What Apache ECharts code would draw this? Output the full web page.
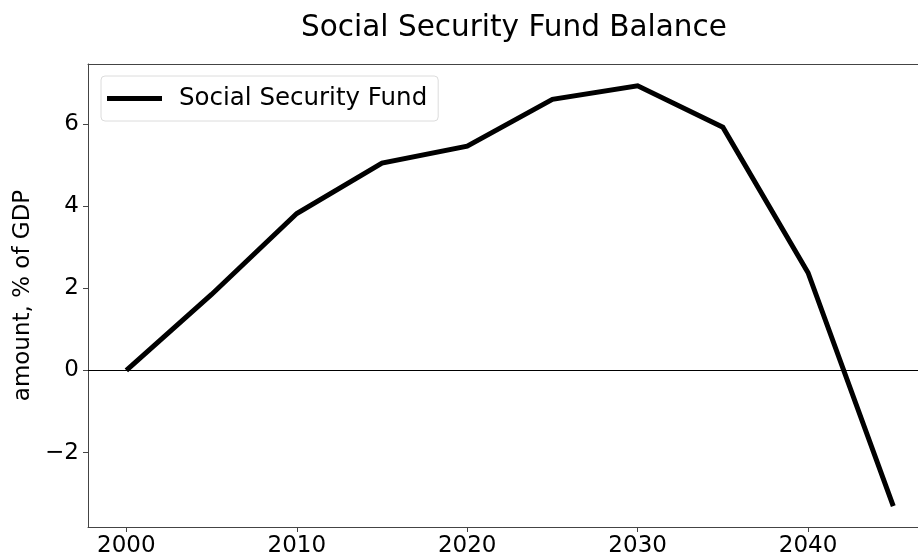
<!DOCTYPE html>
<html>
<head>
<meta charset="utf-8">
<script src="https://cdn.jsdelivr.net/npm/echarts@6/dist/echarts.min.js"></script>
<style>
  html, body { margin: 0; padding: 0; background: #fff; }
  #chart { width: 918px; height: 554px; }
</style>
</head>
<body>
<div id="chart"></div>
<script>
// data
var years = [2000, 2005, 2010, 2015, 2020, 2025, 2030, 2035, 2040, 2045];
var balance = [0, 1.85, 3.82, 5.05, 5.46, 6.60, 6.93, 5.92, 2.38, -3.3];
var xTicks = [2000, 2010, 2020, 2030, 2040];
var yTicks = [-2, 0, 2, 4, 6];

var chart = echarts.init(document.getElementById("chart"));
var font = "DejaVu Sans";

var points = [];
for (var i = 0; i < years.length; i++) {
  points.push([years[i], balance[i]]);
}

var option = {
  animation: false,
  backgroundColor: "#fff",
  title: {
    text: "Social Security Fund Balance",
    left: 509,
    textAlign: "center",
    top: 8,
    textStyle: { fontFamily: font, fontSize: 29.5, fontWeight: "normal", color: "#000" }
  },
  legend: {
    data: ["Social Security Fund"],
    left: 101,
    top: 76,
    orient: "vertical",
    icon: "rect",
    itemWidth: 55,
    itemHeight: 5,
    padding: [10, 11, 10, 6],
    borderColor: "#dcdcdc",
    borderWidth: 1,
    borderRadius: 4,
    backgroundColor: "rgba(255,255,255,0.8)",
    textStyle: { fontFamily: font, fontSize: 24.5, color: "#000", padding: [0, 0, 0, 12] }
  },
  // plot area is cut by the right edge of the picture, so no right spine
  grid: {
    left: 88,
    top: 64,
    right: 0,
    bottom: 27,
    show: false,
    outerBoundsMode: "none"
  },
  xAxis: [
    {
      type: "value",
      min: 1997.75,
      max: 2046.45,
      axisLine: { show: true, onZero: false, lineStyle: { color: "#444", width: 1 } },
      axisTick: { show: true, length: 5, customValues: xTicks, lineStyle: { color: "#444" } },
      axisLabel: {
        customValues: xTicks,
        fontFamily: font,
        fontSize: 23,
        color: "#000",
        margin: 8,
        formatter: function (v) {
          return String(v);
        }
      },
      splitLine: { show: false }
    },
    {
      type: "value",
      position: "top",
      min: 1997.75,
      max: 2046.45,
      axisLine: { show: true, onZero: false, lineStyle: { color: "#444", width: 1 } },
      axisTick: { show: false },
      axisLabel: { show: false },
      splitLine: { show: false }
    }
  ],
  yAxis: {
    type: "value",
    min: -3.81,
    max: 7.46,
    name: "amount, % of GDP",
    nameLocation: "middle",
    nameGap: 52,
    nameTextStyle: { fontFamily: font, fontSize: 23, color: "#000" },
    axisLine: { show: true, onZero: false, lineStyle: { color: "#444", width: 1 } },
    axisTick: { show: true, length: 5, customValues: yTicks, lineStyle: { color: "#444" } },
    axisLabel: {
      customValues: yTicks,
      fontFamily: font,
      fontSize: 23,
      color: "#000",
      margin: 9,
      formatter: function (v) {
        return String(v).replace("-", "\u2212");
      }
    },
    splitLine: { show: false }
  },
  series: [
    {
      name: "Social Security Fund",
      type: "line",
      data: points,
      showSymbol: false,
      symbol: "none",
      color: "#000",
      lineStyle: { color: "#000", width: 5, join: "miter" },
      markLine: {
        silent: true,
        symbol: "none",
        label: { show: false },
        lineStyle: { color: "#000", width: 1, type: "solid" },
        data: [{ yAxis: 0 }]
      }
    }
  ]
};

chart.setOption(option);
</script>
</body>
</html>
